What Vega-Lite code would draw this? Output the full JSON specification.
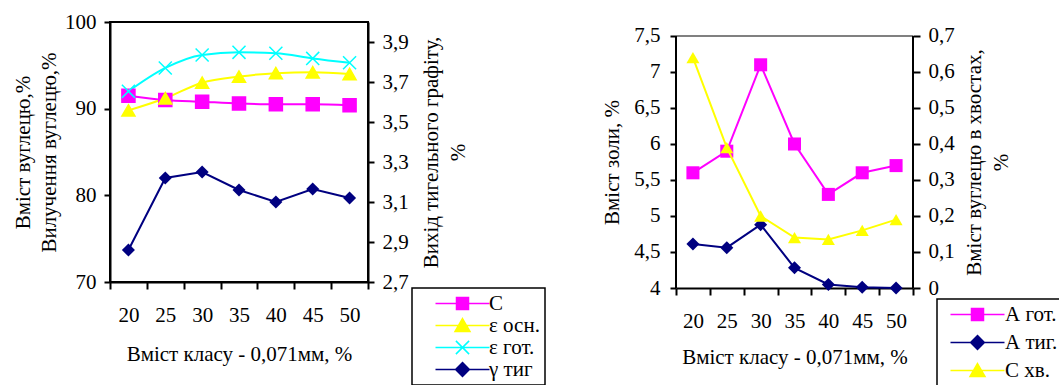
{
  "$schema": "https://vega.github.io/schema/vega-lite/v6.json",
  "background": "white",
  "padding": {"left": 11, "top": 10, "right": 0, "bottom": 0},
  "datasets": {
    "leftMain": [
      {"k": 20, "s": "С", "v": 91.5}, {"k": 25, "s": "С", "v": 91.0}, {"k": 30, "s": "С", "v": 90.8}, {"k": 35, "s": "С", "v": 90.6}, {"k": 40, "s": "С", "v": 90.5}, {"k": 45, "s": "С", "v": 90.5}, {"k": 50, "s": "С", "v": 90.4},
      {"k": 20, "s": "ε осн.", "v": 89.8}, {"k": 25, "s": "ε осн.", "v": 91.2}, {"k": 30, "s": "ε осн.", "v": 93.0}, {"k": 35, "s": "ε осн.", "v": 93.7}, {"k": 40, "s": "ε осн.", "v": 94.1}, {"k": 45, "s": "ε осн.", "v": 94.2}, {"k": 50, "s": "ε осн.", "v": 94.0},
      {"k": 20, "s": "ε гот.", "v": 92.0}, {"k": 25, "s": "ε гот.", "v": 94.7}, {"k": 30, "s": "ε гот.", "v": 96.2}, {"k": 35, "s": "ε гот.", "v": 96.5}, {"k": 40, "s": "ε гот.", "v": 96.4}, {"k": 45, "s": "ε гот.", "v": 95.8}, {"k": 50, "s": "ε гот.", "v": 95.3}
    ],
    "leftTig": [
      {"k": 20, "s": "γ тиг", "v": 2.86}, {"k": 25, "s": "γ тиг", "v": 3.22}, {"k": 30, "s": "γ тиг", "v": 3.25}, {"k": 35, "s": "γ тиг", "v": 3.16}, {"k": 40, "s": "γ тиг", "v": 3.10}, {"k": 45, "s": "γ тиг", "v": 3.165}, {"k": 50, "s": "γ тиг", "v": 3.12}
    ],
    "rightMain": [
      {"k": 20, "s": "А гот.", "v": 5.6}, {"k": 25, "s": "А гот.", "v": 5.9}, {"k": 30, "s": "А гот.", "v": 7.1}, {"k": 35, "s": "А гот.", "v": 6.0}, {"k": 40, "s": "А гот.", "v": 5.3}, {"k": 45, "s": "А гот.", "v": 5.6}, {"k": 50, "s": "А гот.", "v": 5.7},
      {"k": 20, "s": "А тиг.", "v": 4.61}, {"k": 25, "s": "А тиг.", "v": 4.56}, {"k": 30, "s": "А тиг.", "v": 4.88}, {"k": 35, "s": "А тиг.", "v": 4.28}, {"k": 40, "s": "А тиг.", "v": 4.05}, {"k": 45, "s": "А тиг.", "v": 4.01}, {"k": 50, "s": "А тиг.", "v": 4.0}
    ],
    "rightTail": [
      {"k": 20, "s": "С хв.", "v": 0.64}, {"k": 25, "s": "С хв.", "v": 0.39}, {"k": 30, "s": "С хв.", "v": 0.2}, {"k": 35, "s": "С хв.", "v": 0.14}, {"k": 40, "s": "С хв.", "v": 0.135}, {"k": 45, "s": "С хв.", "v": 0.16}, {"k": 50, "s": "С хв.", "v": 0.19}
    ]
  },
  "config": {
    "font": "Liberation Serif, Times New Roman, serif",
    "axis": {
      "labelFont": "Liberation Serif, Times New Roman, serif", "titleFont": "Liberation Serif, Times New Roman, serif",
      "labelFontSize": 21, "titleFontSize": 21, "titleFontWeight": "normal",
      "labelColor": "black", "titleColor": "black", "domainColor": "black", "tickColor": "black",
      "domainWidth": 2, "tickWidth": 2, "grid": false, "labelOverlap": false, "labelFlush": false
    },
    "legend": {"labelFont": "Liberation Serif, Times New Roman, serif", "labelFontSize": 21, "labelColor": "black", "labelLimit": 300}
  },
  "spacing": 54,
  "hconcat": [
    {
      "width": 258, "height": 260,
      "view": {"stroke": "black", "strokeWidth": 2},
      "encoding": {
        "x": {
          "field": "k", "type": "quantitative",
          "scale": {"domain": [17.5, 52.5], "nice": false, "zero": false},
          "axis": {
            "values": [17.5, 22.5, 27.5, 32.5, 37.5, 42.5, 47.5, 52.5],
            "labelExpr": "datum.value < 52 ? format(datum.value + 2.5, 'd') : ''",
            "labelOffset": 18.43, "tickSize": 7, "labelPadding": 15,
            "title": "Вміст класу - 0,071мм, %", "titlePadding": 18
          }
        }
      },
      "layer": [
        {
          "data": {"name": "leftMain"},
          "encoding": {
            "y": {
              "field": "v", "type": "quantitative",
              "scale": {"domain": [70, 100], "nice": false, "zero": false},
              "axis": {
                "orient": "left", "values": [70, 80, 90, 100], "tickSize": 6, "labelPadding": 8,
                "title": ["Вміст вуглецю,%", "Вилучення вуглецю,%"], "titlePadding": 5, "titleLineHeight": 26
              }
            }
          },
          "layer": [
            {
              "mark": {"type": "line", "interpolate": "monotone", "strokeWidth": 2},
              "encoding": {
                "color": {
                  "field": "s", "type": "nominal",
                  "scale": {"domain": ["С", "ε осн.", "ε гот.", "γ тиг"], "range": ["#ff00ff", "#ffff00", "#00ffff", "#000080"]},
                  "legend": {
                    "title": null, "orient": "none", "legendX": 302, "legendY": 266,
                    "strokeColor": "black", "padding": 5, "rowPadding": 0,
                    "symbolSize": 144, "symbolOffset": 35, "labelOffset": 16,
                    "encode": {
                      "legend": {"update": {"strokeWidth": {"value": 1.5}}},
                      "symbols": {
                        "update": {
                          "shape": {"signal": "datum.value === 'С' ? 'M-4.5,0H4.5M-1,-1H1V1H-1Z' : datum.value === 'ε осн.' ? 'M-4.5,0H4.5M0,-1.15L1.25,1H-1.25Z' : datum.value === 'ε гот.' ? 'M-4.5,0H4.5M-1.1,-1.1L1.1,1.1M-1.1,1.1L1.1,-1.1' : 'M-4.5,0H4.5M0,-1.15L1.15,0L0,1.15L-1.15,0Z'"},
                          "fill": {"signal": "datum.value === 'С' ? '#ff00ff' : datum.value === 'ε осн.' ? '#ffff00' : datum.value === 'ε гот.' ? '#00ffff' : '#000080'"},
                          "strokeWidth": {"value": 1.5},
                          "opacity": {"value": 1}
                        }
                      }
                    }
                  }
                }
              }
            },
            {
              "mark": {"type": "point", "filled": true, "opacity": 1, "size": 170, "strokeWidth": 1.5},
              "encoding": {
                "fill": {"field": "s", "type": "nominal", "scale": {"domain": ["С", "ε осн.", "ε гот."], "range": ["#ff00ff", "#ffff00", "#00ffff"]}, "legend": null},
                "stroke": {"field": "s", "type": "nominal", "scale": {"domain": ["С", "ε осн.", "ε гот."], "range": ["#ff00ff", "#ffff00", "#00ffff"]}, "legend": null},
                "shape": {"field": "s", "type": "nominal", "scale": {"domain": ["С", "ε осн.", "ε гот."], "range": ["square", "triangle-up", "M-1,-1L1,1M-1,1L1,-1"]}, "legend": null}
              }
            }
          ]
        },
        {
          "data": {"name": "leftTig"},
          "encoding": {
            "y": {
              "field": "v", "type": "quantitative",
              "scale": {"domain": [2.7, 4.0], "nice": false, "zero": false},
              "axis": {
                "orient": "right", "values": [2.7, 2.9, 3.1, 3.3, 3.5, 3.7, 3.9], "tickSize": 6, "labelPadding": 8,
                "labelExpr": "replace(format(datum.value, '.2~f'), '.', ',')",
                "title": ["Вихід тигельного графіту,", "%"], "titleAngle": 270, "titleBaseline": "top",
                "titlePadding": -15, "titleLineHeight": 27
              }
            }
          },
          "layer": [
            {
              "mark": {"type": "line", "strokeWidth": 2},
              "encoding": {
                "color": {
                  "field": "s", "type": "nominal",
                  "scale": {"domain": ["С", "ε осн.", "ε гот.", "γ тиг"], "range": ["#ff00ff", "#ffff00", "#00ffff", "#000080"]}
                }
              }
            },
            {
              "mark": {"type": "point", "filled": true, "opacity": 1, "size": 170, "shape": "diamond", "color": "#000080"},
              "encoding": {}
            }
          ]
        }
      ],
      "resolve": {"scale": {"y": "independent"}}
    },
    {
      "width": 237, "height": 266,
      "view": {"stroke": null},
      "encoding": {
        "x": {
          "field": "k", "type": "quantitative",
          "scale": {"domain": [17.5, 52.5], "nice": false, "zero": false},
          "axis": {
            "values": [17.5, 22.5, 27.5, 32.5, 37.5, 42.5, 47.5, 52.5],
            "labelExpr": "datum.value < 52 ? format(datum.value + 2.5, 'd') : ''",
            "labelOffset": 16.93, "tickSize": 7, "labelPadding": 15,
            "title": "Вміст класу - 0,071мм, %", "titlePadding": 15
          }
        }
      },
      "layer": [
        {
          "data": {"name": "rightMain"},
          "encoding": {
            "y": {
              "field": "v", "type": "quantitative",
              "scale": {"domain": [4, 7.6944], "nice": false, "zero": false},
              "axis": {
                "orient": "left", "values": [4, 4.5, 5, 5.5, 6, 6.5, 7, 7.5], "tickSize": 6, "labelPadding": 10,
                "domain": false,
                "labelExpr": "replace(format(datum.value, '.2~f'), '.', ',')",
                "title": "Вміст золи, %", "titlePadding": 11, "titleY": 140
              }
            }
          },
          "layer": [
            {
              "transform": [{"filter": "datum.k == 20 && datum.s == 'А гот.'"}],
              "mark": {"type": "rule", "color": "#808080", "strokeWidth": 2},
              "encoding": {"x": {"datum": 17.5}, "x2": {"datum": 52.5}, "y": {"datum": 7.5}}
            },
            {
              "transform": [{"filter": "datum.k == 20 && datum.s == 'А гот.'"}],
              "mark": {"type": "rule", "color": "black", "strokeWidth": 2},
              "encoding": {"x": {"datum": 17.5}, "y": {"datum": 4}, "y2": {"datum": 7.5}}
            },
            {
              "transform": [{"filter": "datum.k == 20 && datum.s == 'А гот.'"}],
              "mark": {"type": "rule", "color": "black", "strokeWidth": 2},
              "encoding": {"x": {"datum": 52.5}, "y": {"datum": 4}, "y2": {"datum": 7.5}}
            },
            {
              "mark": {"type": "line", "strokeWidth": 2},
              "encoding": {
                "color": {
                  "field": "s", "type": "nominal",
                  "scale": {"domain": ["А гот.", "А тиг.", "С хв."], "range": ["#ff00ff", "#000080", "#ffff00"]},
                  "legend": {
                    "title": null, "orient": "none", "legendX": 261, "legendY": 277,
                    "strokeColor": "black", "padding": 5, "rowPadding": 6,
                    "symbolSize": 144, "symbolOffset": 25, "labelOffset": 17,
                    "encode": {
                      "legend": {"update": {"strokeWidth": {"value": 1.5}}},
                      "symbols": {
                        "update": {
                          "shape": {"signal": "datum.value === 'А гот.' ? 'M-4.5,0H4.5M-1,-1H1V1H-1Z' : datum.value === 'А тиг.' ? 'M-4.5,0H4.5M0,-1.15L1.15,0L0,1.15L-1.15,0Z' : 'M-4.5,0H4.5M0,-1.15L1.25,1H-1.25Z'"},
                          "fill": {"signal": "datum.value === 'А гот.' ? '#ff00ff' : datum.value === 'А тиг.' ? '#000080' : '#ffff00'"},
                          "strokeWidth": {"value": 1.5},
                          "opacity": {"value": 1}
                        }
                      }
                    }
                  }
                }
              }
            },
            {
              "mark": {"type": "point", "filled": true, "opacity": 1, "size": 170, "strokeWidth": 1.5},
              "encoding": {
                "fill": {"field": "s", "type": "nominal", "scale": {"domain": ["А гот.", "А тиг."], "range": ["#ff00ff", "#000080"]}, "legend": null},
                "shape": {"field": "s", "type": "nominal", "scale": {"domain": ["А гот.", "А тиг."], "range": ["square", "diamond"]}, "legend": null}
              }
            }
          ]
        },
        {
          "data": {"name": "rightTail"},
          "encoding": {
            "y": {
              "field": "v", "type": "quantitative",
              "scale": {"domain": [0, 0.73885], "nice": false, "zero": false},
              "axis": {
                "orient": "right", "values": [0, 0.1, 0.2, 0.3, 0.4, 0.5, 0.6, 0.7], "tickSize": 7, "labelPadding": 8,
                "domain": false,
                "labelExpr": "replace(format(datum.value, '.2~f'), '.', ',')",
                "title": ["Вміст вуглецю в хвостах,", "%"], "titleAngle": 270, "titleBaseline": "top",
                "titlePadding": -18, "titleLineHeight": 27, "titleY": 140
              }
            }
          },
          "layer": [
            {
              "mark": {"type": "line", "strokeWidth": 2},
              "encoding": {
                "color": {
                  "field": "s", "type": "nominal",
                  "scale": {"domain": ["А гот.", "А тиг.", "С хв."], "range": ["#ff00ff", "#000080", "#ffff00"]}
                }
              }
            },
            {
              "mark": {"type": "point", "filled": true, "opacity": 1, "size": 170, "shape": "triangle-up", "color": "#ffff00"},
              "encoding": {}
            }
          ]
        }
      ],
      "resolve": {"scale": {"y": "independent"}}
    }
  ],
  "resolve": {
    "scale": {"color": "independent", "x": "independent", "y": "independent", "fill": "independent", "stroke": "independent", "shape": "independent"},
    "legend": {"color": "independent"}
  }
}
